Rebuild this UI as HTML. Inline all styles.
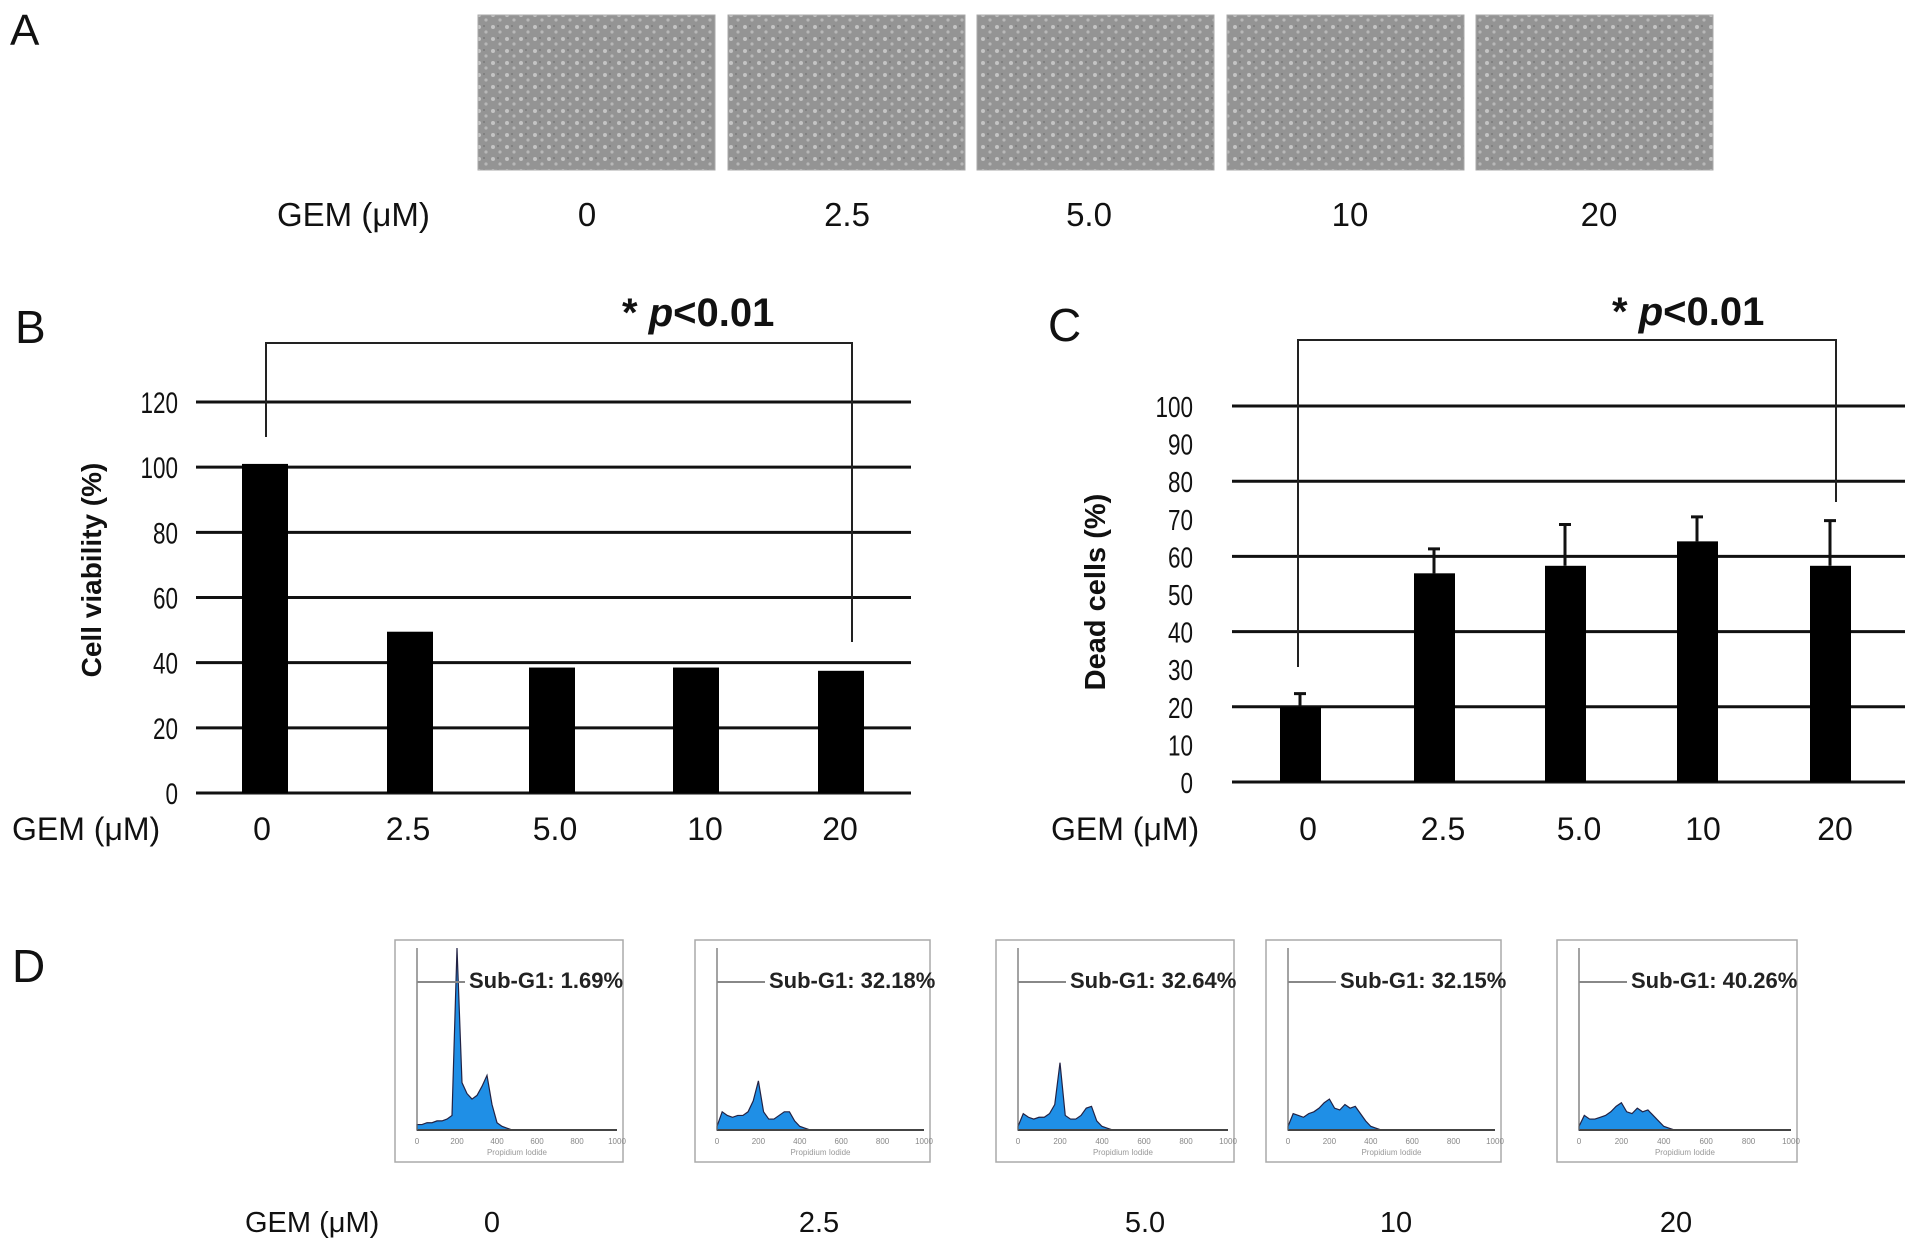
<!DOCTYPE html>
<html><head><meta charset="utf-8"><style>
html,body{margin:0;padding:0;background:#fff}
svg{display:block;font-family:"Liberation Sans",sans-serif}
</style></head><body>
<svg id="fig" width="1913" height="1248" viewBox="0 0 1913 1248" xmlns="http://www.w3.org/2000/svg">
<defs>
<pattern id="cells" width="14" height="12" patternUnits="userSpaceOnUse">
<rect width="14" height="12" fill="#949494"/>
<circle cx="3" cy="3" r="2" fill="#c4c4c4"/><circle cx="10" cy="8" r="1.6" fill="#b8b8b8"/><circle cx="8" cy="2" r="1" fill="#7a7a7a"/>
</pattern>
</defs>
<g id="panelA"></g>
<g id="panelB"></g>
<g id="panelC"></g>
<g id="panelD"></g>
</svg>
<script>
const doses = ["0","2.5","5.0","10","20"];
const viability = [101, 49.5, 38.5, 38.5, 37.5];
const deadCells = [20, 55.5, 57.5, 64, 57.5];
const deadErr = [3.5, 6.5, 11, 6.5, 12];
const viabilityTicks = [0,20,40,60,80,100,120];
const deadTicks = [0,10,20,30,40,50,60,70,80,90,100];
const deadGrid = [0,20,40,60,80,100];
const subG1 = ["1.69%","32.18%","32.64%","32.15%","40.26%"];
const hist0 = [0.03,0.03,0.04,0.04,0.05,0.05,0.06,0.08,1.0,0.26,0.2,0.17,0.19,0.24,0.3,0.14,0.04,0.02,0.01,0];
const hist1 = [0.02,0.1,0.08,0.07,0.08,0.08,0.1,0.16,0.27,0.1,0.06,0.06,0.08,0.1,0.1,0.05,0.02,0.01,0,0];
const hist2 = [0.02,0.09,0.07,0.06,0.07,0.07,0.09,0.14,0.37,0.08,0.06,0.06,0.08,0.12,0.13,0.05,0.02,0.01,0,0];
const hist3 = [0.02,0.09,0.08,0.07,0.09,0.1,0.12,0.15,0.17,0.12,0.11,0.14,0.12,0.13,0.09,0.05,0.02,0.01,0,0];
const hist4 = [0.02,0.08,0.06,0.06,0.07,0.08,0.1,0.13,0.15,0.1,0.09,0.12,0.1,0.11,0.08,0.05,0.02,0.01,0,0];
const hists = [hist0,hist1,hist2,hist3,hist4];

const NS="http://www.w3.org/2000/svg";
function mk(parent,tag,attrs,text){const e=document.createElementNS(NS,tag);for(const k in attrs)e.setAttribute(k,attrs[k]);if(text!==undefined)e.textContent=text;parent.appendChild(e);return e;}

// Panel A
const A=document.getElementById('panelA');
let t=mk(A,'text',{x:10,y:45,'font-size':44,fill:'#111'},'A');


const aX=[478,728,977,1227,1476], aLab=[587,847,1089,1350,1599];
doses.forEach((d,i)=>{
 let r=mk(A,'rect',{x:aX[i],y:15,width:237,height:155,fill:'url(#cells)',stroke:'#aaa'});
 
 
 let l=mk(A,'text',{x:aLab[i],y:226,'font-size':33,'text-anchor':'middle',fill:'#111'},d);
 
 
});
t=mk(A,'text',{x:277,y:226,'font-size':33,fill:'#111'},'GEM (μM)');



function panelLetter(g,x,y,s){let e=mk(g,'text',{x:x,y:y,'font-size':46,fill:'#111'},s);}
function pText(g,x,y){let e=mk(g,'text',{x:x,y:y,'font-size':40,'font-weight':'bold',fill:'#111'});
 
 mk(e,'tspan',{},'*  ');mk(e,'tspan',{'font-style':'italic'},'p');mk(e,'tspan',{},'<0.01');}

// Panel B
const B=document.getElementById('panelB');
const bx0=196,bx1=911,by0=793,byTop=402;
const yB=v=>by0-(v/120)*(by0-byTop);
const bCenters=[265,410,552,696,841], bLab=[262,408,555,705,840];
const xB=i=>bCenters[i];
panelLetter(B,15,343,'B');
viabilityTicks.forEach(v=>{
 let l=mk(B,'line',{x1:bx0,x2:bx1,y1:yB(v),y2:yB(v),stroke:'#111','stroke-width':3});
 
 let s=String(v);
 let tx=mk(B,'text',{x:178,y:yB(v)+11,'font-size':30,'text-anchor':'end',fill:'#111',textLength:s.length*12.5,lengthAdjust:'spacingAndGlyphs'},s);
 
});
viability.forEach((v,i)=>{
 let r=mk(B,'rect',{x:xB(i)-23,y:yB(v),width:46,height:by0-yB(v),fill:'#000'});
 
 let l=mk(B,'text',{x:bLab[i],y:840,'font-size':32,'text-anchor':'middle',fill:'#111'},doses[i]);
 
});
t=mk(B,'text',{x:12,y:840,'font-size':32,fill:'#111'},'GEM (μM)');

t=mk(B,'text',{x:0,y:0,'font-size':28,'font-weight':'bold','text-anchor':'middle',fill:'#111',transform:'translate(101,570) rotate(-90)'},'Cell viability (%)');

t=mk(B,'path',{d:'M266 437 V343 H852 V642',fill:'none',stroke:'#222','stroke-width':2});

pText(B,622,326);

// Panel C
const C=document.getElementById('panelC');
const cx0=1232,cx1=1905,cy0=782,cyTop=406;
const yC=v=>cy0-(v/100)*(cy0-cyTop);
const cCenters=[1300,1434,1565,1697,1830], cLab=[1308,1443,1579,1703,1835];
const xC=i=>cCenters[i];
panelLetter(C,1048,341,'C');
deadGrid.forEach(v=>{
 let l=mk(C,'line',{x1:cx0,x2:cx1,y1:yC(v),y2:yC(v),stroke:'#111','stroke-width':3});
 
});
deadTicks.forEach(v=>{
 let s=String(v);
 let tx=mk(C,'text',{x:1193,y:yC(v)+11,'font-size':29,'text-anchor':'end',fill:'#111',textLength:s.length*12.5,lengthAdjust:'spacingAndGlyphs'},s);
 
});
deadCells.forEach((v,i)=>{
 const top=yC(v+deadErr[i]);
 let e=mk(C,'path',{d:`M${xC(i)} ${yC(v)} V${top} M${xC(i)-6} ${top} H${xC(i)+6}`,stroke:'#111','stroke-width':3,fill:'none'});
 
 let r=mk(C,'rect',{x:xC(i)-20,y:yC(v),width:41,height:cy0-yC(v),fill:'#000'});
 
 let l=mk(C,'text',{x:cLab[i],y:840,'font-size':32,'text-anchor':'middle',fill:'#111'},doses[i]);
 
});
t=mk(C,'text',{x:1051,y:840,'font-size':32,fill:'#111'},'GEM (μM)');

t=mk(C,'text',{x:0,y:0,'font-size':29,'font-weight':'bold','text-anchor':'middle',fill:'#111',transform:'translate(1105,592) rotate(-90)'},'Dead cells (%)');

t=mk(C,'path',{d:'M1298 667 V340 H1836 V502',fill:'none',stroke:'#222','stroke-width':2});

pText(C,1612,325);

// Panel D
const D=document.getElementById('panelD');
panelLetter(D,12,982,'D');
const dBox=[[395,623],[695,930],[996,1234],[1266,1501],[1557,1797]], dLab=[492,819,1145,1396,1676];
hists.forEach((h,i)=>{
 const [x0,x1]=dBox[i];const fx0=x0,fy0=940,fy1=1162;
 const px0=fx0+22,px1=x1-6,base=fy1-32,top=fy0+8;
 const hx=k=>px0+k*(px1-px0)/40, hy=v=>base-v*(base-top);
 let g=mk(D,'g',{});
 mk(g,'rect',{x:fx0,y:fy0,width:x1-fx0,height:fy1-fy0,fill:'#fff',stroke:'#aaa','stroke-width':1.5});
 let d=`M${hx(0)} ${base}`;h.forEach((v,k)=>{d+=` L${hx(k)} ${hy(v)}`;});d+=` L${hx(h.length-1)} ${base} Z`;
 mk(g,'path',{d:d,fill:'#1f8fe6',stroke:'#224',"stroke-width":1.2});
 mk(g,'line',{x1:px0,x2:px1,y1:base,y2:base,stroke:'#444','stroke-width':2});
 mk(g,'line',{x1:px0,x2:px0,y1:top,y2:base,stroke:'#666','stroke-width':1.2});
 mk(g,'line',{x1:px0,x2:px0+48,y1:982,y2:982,stroke:'#888','stroke-width':2});
 for(let k=0;k<=5;k++){mk(g,'text',{x:px0+k*(px1-px0)/5,y:base+14,'font-size':8,'text-anchor':'middle',fill:'#888'},String(k*200));}
 mk(g,'text',{x:(px0+px1)/2,y:base+25,'font-size':8,'text-anchor':'middle',fill:'#999'},'Propidium Iodide');
 let s=mk(g,'text',{x:px0+52,y:988,'font-size':22,'font-weight':'bold',fill:'#222'},'Sub-G1: '+subG1[i]);
 
 let l=mk(D,'text',{x:dLab[i],y:1232,'font-size':29,'text-anchor':'middle',fill:'#111'},doses[i]);
 
});
t=mk(D,'text',{x:245,y:1232,'font-size':29,fill:'#111'},'GEM (μM)');

</script>
</body></html>
